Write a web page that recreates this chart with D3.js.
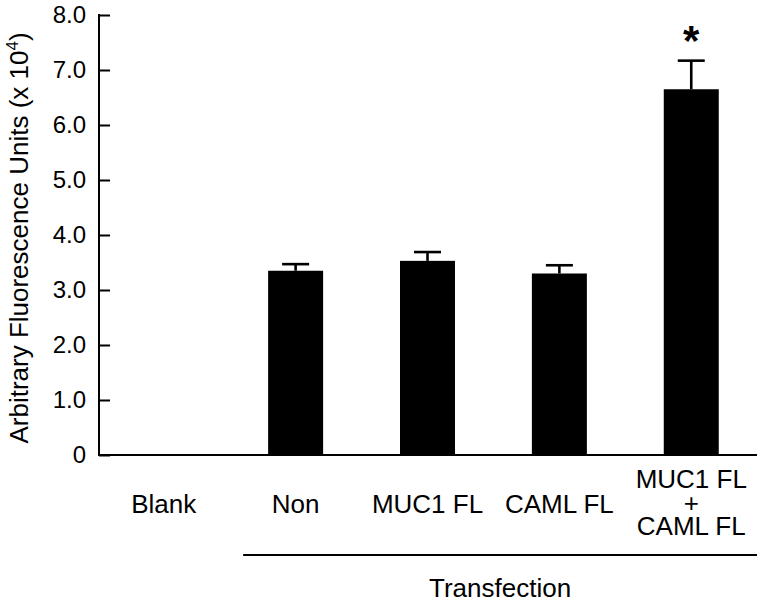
<!DOCTYPE html>
<html><head><meta charset="utf-8">
<script src="https://cdn.jsdelivr.net/npm/d3@7"></script>
<style>body{margin:0;background:#fff}svg{display:block}text{font-family:"Liberation Sans",Arial,sans-serif;fill:#000}</style>
</head><body>
<svg id="c" width="762" height="608"></svg>
<script>
const categories = ["Blank", "Non", "MUC1 FL", "CAML FL", "MUC1 FL|+|CAML FL"];
const values = [null, 3.35, 3.53, 3.30, 6.65];
const errors = [null, 0.12, 0.16, 0.15, 0.52];
const significant = [false, false, false, false, true];
const yTicks = [0, 1, 2, 3, 4, 5, 6, 7, 8];
const yTickLabels = ["0", "1.0", "2.0", "3.0", "4.0", "5.0", "6.0", "7.0", "8.0"];
const groupLabel = "Transfection";
const groupMembers = ["Non", "MUC1 FL", "CAML FL", "MUC1 FL|+|CAML FL"];

const svg = d3.select("#c");
const x0 = 99, x1 = 757, yTop = 15, yBot = 455;
const x = d3.scaleBand().domain(categories).range([98, 757]).paddingInner(0.583).paddingOuter(0.29);
const y = d3.scaleLinear().domain([0, 8]).range([yBot, yTop]);

// bars
const data = categories.map((c, i) => ({c, v: values[i], e: errors[i], s: significant[i]})).filter(d => d.v != null);
svg.selectAll("rect.bar").data(data).join("rect")
  .attr("x", d => x(d.c)).attr("width", x.bandwidth())
  .attr("y", d => y(d.v)).attr("height", d => y(0) - y(d.v)).attr("fill", "#000");

// error bars
const cap = 27;
const eg = svg.append("g").attr("stroke", "#000").attr("stroke-width", 2.6);
data.forEach(d => {
  const cx = x(d.c) + x.bandwidth() / 2;
  eg.append("line").attr("x1", cx).attr("x2", cx).attr("y1", y(d.v)).attr("y2", y(d.v + d.e));
  eg.append("line").attr("x1", cx - cap / 2).attr("x2", cx + cap / 2).attr("y1", y(d.v + d.e)).attr("y2", y(d.v + d.e));
});
data.filter(d => d.s).forEach(d => {
  const cx = x(d.c) + x.bandwidth() / 2;
  svg.append("text").attr("x", cx).attr("y", y(d.v + d.e) - 6).attr("text-anchor", "middle")
    .attr("font-size", 42).attr("font-weight", "bold").text("*");
});

// y axis
const ya = d3.axisLeft(y).tickValues(yTicks).tickSize(-11).tickPadding(24).tickFormat((d, i) => yTickLabels[i]);
const yg = svg.append("g").attr("transform", `translate(${x0},0)`).call(ya);
yg.select(".domain").remove();
yg.selectAll(".tick line").attr("stroke-width", 2);
yg.selectAll(".tick text").attr("font-size", 24).attr("font-family", "Liberation Sans, Arial, sans-serif").attr("dx", 11);
svg.append("line").attr("x1", x0).attr("x2", x0).attr("y1", yTop - 1).attr("y2", yBot + 1).attr("stroke", "#000").attr("stroke-width", 2);
svg.append("line").attr("x1", x0 - 1).attr("x2", x1).attr("y1", yBot).attr("y2", yBot).attr("stroke", "#000").attr("stroke-width", 2);

// x labels
categories.forEach(c => {
  const lines = c.split("|");
  const cx = x(c) + x.bandwidth() / 2;
  const t = svg.append("text").attr("text-anchor", "middle").attr("font-size", 26);
  const base = lines.length === 1 ? 513 : 488;
  lines.forEach((l, i) => t.append("tspan").attr("x", cx).attr("y", base + i * 23.5).text(l));
});

// group bracket
const gx0 = x(groupMembers[0]) - 25, gx1 = x1;
svg.append("line").attr("x1", gx0).attr("x2", gx1).attr("y1", 555).attr("y2", 555).attr("stroke", "#000").attr("stroke-width", 2);
svg.append("text").attr("x", (gx0 + gx1) / 2).attr("y", 597).attr("text-anchor", "middle").attr("font-size", 26).text(groupLabel);

// y label
const yl = svg.append("text").attr("transform", "translate(28,238) rotate(-90)").attr("text-anchor", "middle").attr("font-size", 26);
yl.append("tspan").text("Arbitrary Fluorescence Units (x 10");
yl.append("tspan").attr("font-size", 17).attr("dy", -10).text("4");
yl.append("tspan").attr("dy", 10).text(")");
</script>
</body></html>
